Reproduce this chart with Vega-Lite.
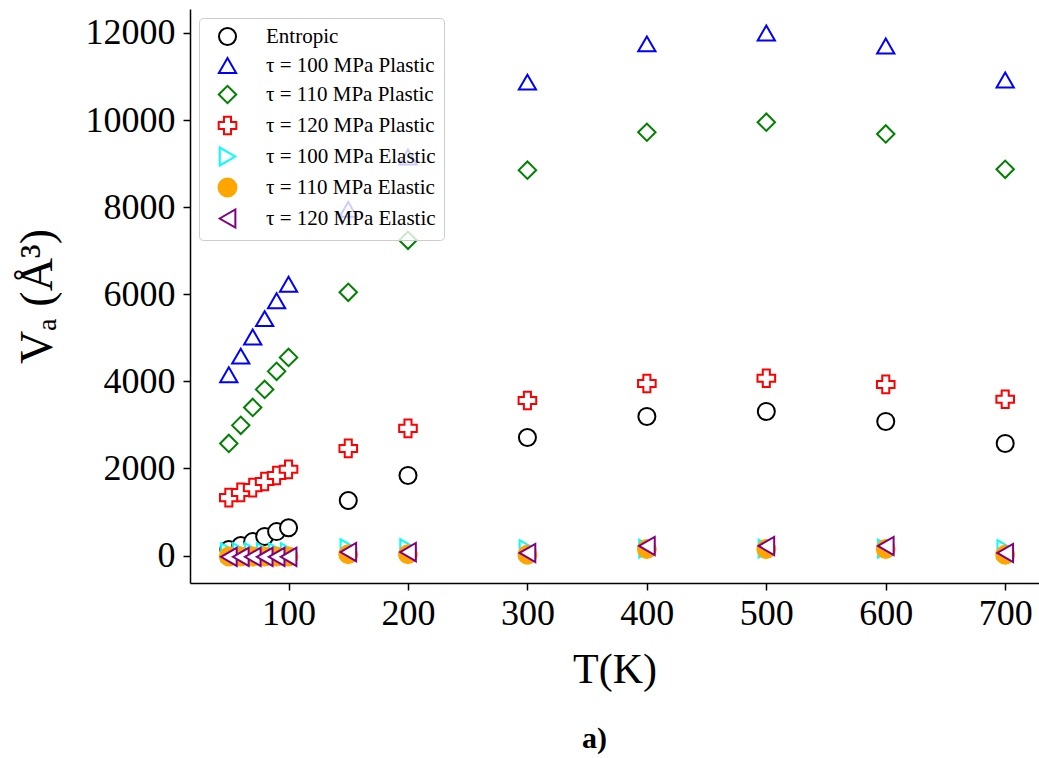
{
  "$schema": "https://vega.github.io/schema/vega-lite/v6.json",
  "width": 849,
  "height": 574,
  "autosize": {"type": "none"},
  "padding": {"left": 190, "top": 9, "right": 0, "bottom": 175},
  "background": "white",
  "title": {"text": "a)", "orient": "bottom", "anchor": "middle", "font": "Liberation Serif", "fontSize": 30, "fontWeight": "bold", "color": "black", "offset": 34, "dx": -20},
  "config": {
    "view": {"stroke": null},
    "axis": {"domainColor": "black", "domainWidth": 1.5, "tickColor": "black", "tickWidth": 1.5, "tickSize": 7, "grid": false, "labelFont": "Liberation Serif", "labelFontSize": 36, "labelColor": "black", "titleFont": "Liberation Serif", "titleFontSize": 42, "titleFontWeight": "normal", "titleColor": "black"},
    "legend": {"labelFont": "Liberation Serif", "labelFontSize": 21, "labelLimit": 0, "labelColor": "black", "symbolStrokeWidth": 2, "fillColor": "rgba(255,255,255,0.8)", "strokeColor": "#cccccc", "cornerRadius": 4, "padding": 8, "rowPadding": 4, "labelOffset": 28, "symbolOffset": 10}
  },
  "data": {"values": [
    {"T": 50, "V": 140, "s": "Entropic"},
    {"T": 60, "V": 230, "s": "Entropic"},
    {"T": 70, "V": 320, "s": "Entropic"},
    {"T": 80, "V": 440, "s": "Entropic"},
    {"T": 90, "V": 550, "s": "Entropic"},
    {"T": 100, "V": 640, "s": "Entropic"},
    {"T": 150, "V": 1265, "s": "Entropic"},
    {"T": 200, "V": 1840, "s": "Entropic"},
    {"T": 300, "V": 2710, "s": "Entropic"},
    {"T": 400, "V": 3195, "s": "Entropic"},
    {"T": 500, "V": 3310, "s": "Entropic"},
    {"T": 600, "V": 3080, "s": "Entropic"},
    {"T": 700, "V": 2575, "s": "Entropic"},
    {"T": 50, "V": 4150, "s": "τ = 100 MPa Plastic"},
    {"T": 60, "V": 4580, "s": "τ = 100 MPa Plastic"},
    {"T": 70, "V": 5020, "s": "τ = 100 MPa Plastic"},
    {"T": 80, "V": 5440, "s": "τ = 100 MPa Plastic"},
    {"T": 90, "V": 5850, "s": "τ = 100 MPa Plastic"},
    {"T": 100, "V": 6230, "s": "τ = 100 MPa Plastic"},
    {"T": 150, "V": 7950, "s": "τ = 100 MPa Plastic"},
    {"T": 200, "V": 9150, "s": "τ = 100 MPa Plastic"},
    {"T": 300, "V": 10870, "s": "τ = 100 MPa Plastic"},
    {"T": 400, "V": 11750, "s": "τ = 100 MPa Plastic"},
    {"T": 500, "V": 12000, "s": "τ = 100 MPa Plastic"},
    {"T": 600, "V": 11700, "s": "τ = 100 MPa Plastic"},
    {"T": 700, "V": 10920, "s": "τ = 100 MPa Plastic"},
    {"T": 50, "V": 2575, "s": "τ = 110 MPa Plastic"},
    {"T": 60, "V": 2990, "s": "τ = 110 MPa Plastic"},
    {"T": 70, "V": 3400, "s": "τ = 110 MPa Plastic"},
    {"T": 80, "V": 3815, "s": "τ = 110 MPa Plastic"},
    {"T": 90, "V": 4230, "s": "τ = 110 MPa Plastic"},
    {"T": 100, "V": 4550, "s": "τ = 110 MPa Plastic"},
    {"T": 150, "V": 6045, "s": "τ = 110 MPa Plastic"},
    {"T": 200, "V": 7240, "s": "τ = 110 MPa Plastic"},
    {"T": 300, "V": 8850, "s": "τ = 110 MPa Plastic"},
    {"T": 400, "V": 9720, "s": "τ = 110 MPa Plastic"},
    {"T": 500, "V": 9950, "s": "τ = 110 MPa Plastic"},
    {"T": 600, "V": 9680, "s": "τ = 110 MPa Plastic"},
    {"T": 700, "V": 8870, "s": "τ = 110 MPa Plastic"},
    {"T": 50, "V": 1330, "s": "τ = 120 MPa Plastic"},
    {"T": 60, "V": 1450, "s": "τ = 120 MPa Plastic"},
    {"T": 70, "V": 1560, "s": "τ = 120 MPa Plastic"},
    {"T": 80, "V": 1700, "s": "τ = 120 MPa Plastic"},
    {"T": 90, "V": 1840, "s": "τ = 120 MPa Plastic"},
    {"T": 100, "V": 1980, "s": "τ = 120 MPa Plastic"},
    {"T": 150, "V": 2460, "s": "τ = 120 MPa Plastic"},
    {"T": 200, "V": 2920, "s": "τ = 120 MPa Plastic"},
    {"T": 300, "V": 3560, "s": "τ = 120 MPa Plastic"},
    {"T": 400, "V": 3950, "s": "τ = 120 MPa Plastic"},
    {"T": 500, "V": 4070, "s": "τ = 120 MPa Plastic"},
    {"T": 600, "V": 3930, "s": "τ = 120 MPa Plastic"},
    {"T": 700, "V": 3590, "s": "τ = 120 MPa Plastic"},
    {"T": 50, "V": 80, "s": "τ = 100 MPa Elastic"},
    {"T": 60, "V": 80, "s": "τ = 100 MPa Elastic"},
    {"T": 70, "V": 80, "s": "τ = 100 MPa Elastic"},
    {"T": 80, "V": 80, "s": "τ = 100 MPa Elastic"},
    {"T": 90, "V": 80, "s": "τ = 100 MPa Elastic"},
    {"T": 100, "V": 80, "s": "τ = 100 MPa Elastic"},
    {"T": 150, "V": 170, "s": "τ = 100 MPa Elastic"},
    {"T": 200, "V": 170, "s": "τ = 100 MPa Elastic"},
    {"T": 300, "V": 150, "s": "τ = 100 MPa Elastic"},
    {"T": 400, "V": 160, "s": "τ = 100 MPa Elastic"},
    {"T": 500, "V": 160, "s": "τ = 100 MPa Elastic"},
    {"T": 600, "V": 160, "s": "τ = 100 MPa Elastic"},
    {"T": 700, "V": 150, "s": "τ = 100 MPa Elastic"},
    {"T": 50, "V": -20, "s": "τ = 110 MPa Elastic"},
    {"T": 60, "V": -20, "s": "τ = 110 MPa Elastic"},
    {"T": 70, "V": -20, "s": "τ = 110 MPa Elastic"},
    {"T": 80, "V": -20, "s": "τ = 110 MPa Elastic"},
    {"T": 90, "V": -20, "s": "τ = 110 MPa Elastic"},
    {"T": 100, "V": -20, "s": "τ = 110 MPa Elastic"},
    {"T": 150, "V": 30, "s": "τ = 110 MPa Elastic"},
    {"T": 200, "V": 30, "s": "τ = 110 MPa Elastic"},
    {"T": 300, "V": 20, "s": "τ = 110 MPa Elastic"},
    {"T": 400, "V": 150, "s": "τ = 110 MPa Elastic"},
    {"T": 500, "V": 150, "s": "τ = 110 MPa Elastic"},
    {"T": 600, "V": 150, "s": "τ = 110 MPa Elastic"},
    {"T": 700, "V": 20, "s": "τ = 110 MPa Elastic"},
    {"T": 50, "V": -30, "s": "τ = 120 MPa Elastic"},
    {"T": 60, "V": -30, "s": "τ = 120 MPa Elastic"},
    {"T": 70, "V": -30, "s": "τ = 120 MPa Elastic"},
    {"T": 80, "V": -30, "s": "τ = 120 MPa Elastic"},
    {"T": 90, "V": -30, "s": "τ = 120 MPa Elastic"},
    {"T": 100, "V": -30, "s": "τ = 120 MPa Elastic"},
    {"T": 150, "V": 80, "s": "τ = 120 MPa Elastic"},
    {"T": 200, "V": 80, "s": "τ = 120 MPa Elastic"},
    {"T": 300, "V": 60, "s": "τ = 120 MPa Elastic"},
    {"T": 400, "V": 220, "s": "τ = 120 MPa Elastic"},
    {"T": 500, "V": 220, "s": "τ = 120 MPa Elastic"},
    {"T": 600, "V": 220, "s": "τ = 120 MPa Elastic"},
    {"T": 700, "V": 60, "s": "τ = 120 MPa Elastic"}
  ]},
  "mark": {"type": "point", "filled": false, "strokeWidth": 2, "opacity": 1},
  "encoding": {
    "x": {"field": "T", "type": "quantitative", "scale": {"domain": [17.5, 728.3], "nice": false, "zero": false}, "axis": {"title": "T(K)", "values": [100, 200, 300, 400, 500, 600, 700], "format": "d", "labelPadding": 6, "titlePadding": 18}},
    "y": {"field": "V", "type": "quantitative", "scale": {"domain": [-630, 12550], "nice": false, "zero": false}, "axis": {"title": "Vₐ (Å³)", "titleFontSize": 46, "values": [0, 2000, 4000, 6000, 8000, 10000, 12000], "format": "d", "labelPadding": 8, "titlePadding": 24}},
    "shape": {"field": "s", "type": "nominal", "scale": {"domain": ["Entropic", "τ = 100 MPa Plastic", "τ = 110 MPa Plastic", "τ = 120 MPa Plastic", "τ = 100 MPa Elastic", "τ = 110 MPa Elastic", "τ = 120 MPa Elastic"], "range": ["circle", "triangle-up", "diamond", "cross", "triangle-right", "circle", "triangle-left"]}, "legend": {"title": null, "orient": "top-left", "offset": 9}},
    "stroke": {"field": "s", "type": "nominal", "scale": {"domain": ["Entropic", "τ = 100 MPa Plastic", "τ = 110 MPa Plastic", "τ = 120 MPa Plastic", "τ = 100 MPa Elastic", "τ = 110 MPa Elastic", "τ = 120 MPa Elastic"], "range": ["black", "#0000ff", "#008000", "#ff0000", "#00ffff", "#ffa500", "#800080"]}, "legend": {"title": null, "orient": "top-left", "offset": 9}},
    "fill": {"field": "s", "type": "nominal", "scale": {"domain": ["Entropic", "τ = 100 MPa Plastic", "τ = 110 MPa Plastic", "τ = 120 MPa Plastic", "τ = 100 MPa Elastic", "τ = 110 MPa Elastic", "τ = 120 MPa Elastic"], "range": ["white", "white", "white", "white", "white", "#ffa500", "white"]}, "legend": {"title": null, "orient": "top-left", "offset": 9}},
    "size": {"field": "s", "type": "nominal", "scale": {"domain": ["Entropic", "τ = 100 MPa Plastic", "τ = 110 MPa Plastic", "τ = 120 MPa Plastic", "τ = 100 MPa Elastic", "τ = 110 MPa Elastic", "τ = 120 MPa Elastic"], "range": [290, 330, 500, 330, 300, 290, 300]}, "legend": {"title": null, "orient": "top-left", "offset": 9}}
  }
}
